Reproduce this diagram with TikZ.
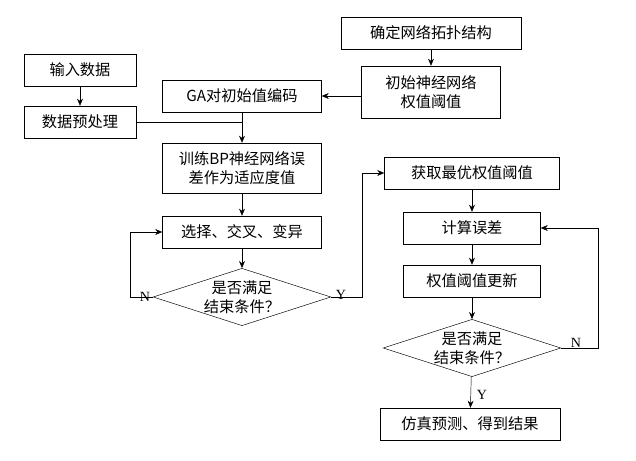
\documentclass[tikz,border=0pt]{standalone}
\usepackage{fontspec}
\setmainfont{Liberation Serif}
\newfontfamily\cjk{Noto Sans CJK SC}
\usetikzlibrary{shapes.geometric,arrows.meta}
\tikzset{
  box/.style={draw, minimum height=0.96cm, align=center, font=\cjk\fontsize{13}{16}\selectfont, inner sep=1pt},
  dia/.style={draw, diamond, aspect=3.1, minimum width=5.1cm, minimum height=1.7cm, inner sep=0pt, align=center, font=\cjk\fontsize{13}{16}\selectfont},
  arr/.style={-{Stealth[length=6pt,width=5pt]}},
  lab/.style={font=\fontsize{12}{14}\selectfont}
}
\begin{document}
\begin{tikzpicture}[x=0.03cm,y=-0.03cm]
\useasboundingbox (0,0) rectangle (636,461);

% left column
\node[box, minimum width=3.36cm] (input) at (80,70) {输入数据};
\node[box, minimum width=3.36cm] (prep) at (80,122) {数据预处理};
\node[box, minimum width=4.77cm] (ga) at (242,96) {GA对初始值编码};
\node[box, minimum width=4.77cm, minimum height=1.5cm] (train) at (242,168) {训练BP神经网络误\\差作为适应度值};
\node[box, minimum width=4.77cm] (sel) at (242,232) {选择、交叉、变异};
\node[dia] (end1) at (242,297) {是否满足\\结束条件？};

% right column
\node[box, minimum width=5.4cm] (topo) at (431,33) {确定网络拓扑结构};
\node[box, minimum width=4.17cm, minimum height=1.56cm] (init) at (431,92) {初始神经网络\\权值阈值};
\node[box, minimum width=5.25cm] (best) at (472,173) {获取最优权值阈值};
\node[box, minimum width=4.11cm] (err) at (472,228) {计算误差};
\node[box, minimum width=4.11cm] (upd) at (472,281) {权值阈值更新};
\node[dia, minimum width=4.95cm] (end2) at (472,348) {是否满足\\结束条件？};
\node[box, minimum width=5.4cm] (sim) at (470,424) {仿真预测、得到结果};

\coordinate (j1) at (242,122);
\coordinate (l1) at (130,297);
\coordinate (l2) at (130,232);
\coordinate (r1) at (362,297);
\coordinate (r2) at (362,173);
\coordinate (q1) at (598,348);
\coordinate (q2) at (598,228);

% connectors
\draw[arr] (topo) -- (init);
\draw[arr] (init.west |- ga) -- (ga);
\draw[arr] (input) -- (prep);
\draw (prep) -- (j1);
\draw[arr] (ga) -- (train);
\draw[arr] (train) -- (sel);
\draw[arr] (sel) -- (end1);
\draw[arr] (end1.west) -- (l1) -- (l2) -- (sel.west);
\draw[arr] (end1.east) -- (r1) -- (r2) -- (best.west);
\draw[arr] (best) -- (err);
\draw[arr] (err) -- (upd);
\draw[arr] (upd) -- (end2);
\draw[arr] (end2.east) -- (q1) -- (q2) -- (err.east);
\draw[arr] (end2) -- (sim);

% labels
\node[lab] (n1) at (145,297) {N};
\node[lab] (y1) at (341,295) {Y};
\node[lab] (n2) at (576,343) {N};
\node[lab] (y2) at (482,395) {Y};
\end{tikzpicture}
\end{document}
